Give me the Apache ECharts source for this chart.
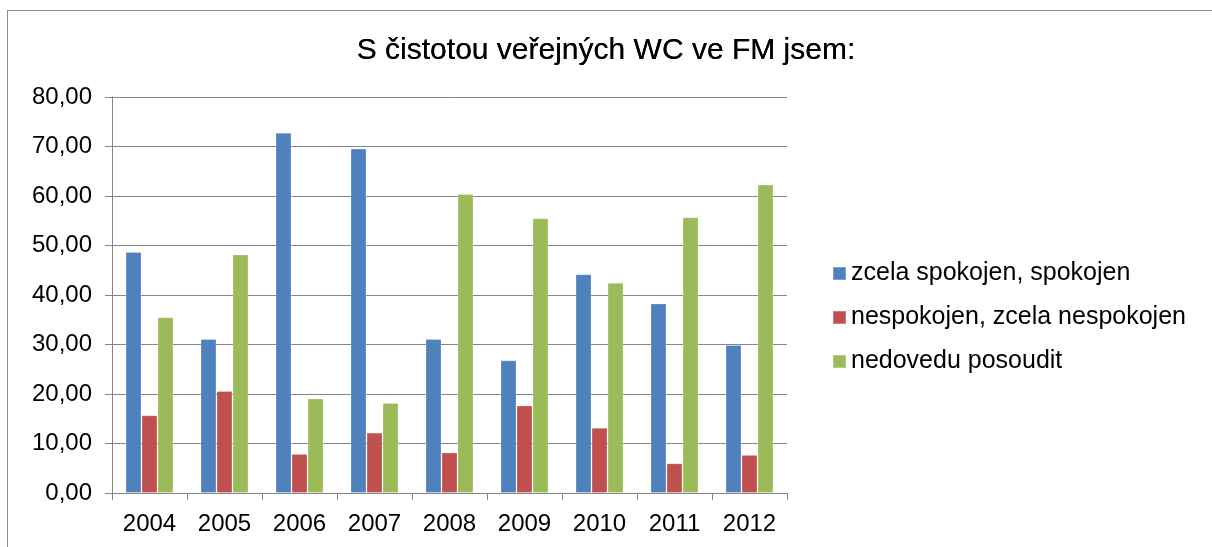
<!DOCTYPE html>
<html>
<head>
<meta charset="utf-8">
<script src="https://cdn.jsdelivr.net/npm/echarts@6/dist/echarts.min.js"></script>
<style>
  html, body { margin: 0; padding: 0; background: #fff; }
  #frame {
    position: absolute; left: 7px; top: 10px; width: 1220px; height: 560px;
    border: 1px solid #8c8c8c; box-sizing: border-box;
  }
  #chart { position: absolute; left: 0; top: 0; width: 1212px; height: 547px; }
</style>
</head>
<body>
<div id="frame"></div>
<div id="chart"></div>
<script>
// data
const years = ['2004', '2005', '2006', '2007', '2008', '2009', '2010', '2011', '2012']
const spokojen = [48.7, 31.1, 72.8, 69.6, 31.1, 26.8, 44.2, 38.3, 29.9]
const nespokojen = [15.7, 20.6, 7.9, 12.2, 8.2, 17.7, 13.2, 6.0, 7.7]
const neposoudit = [35.5, 48.2, 19.1, 18.2, 60.4, 55.5, 42.5, 55.7, 62.3]
const seriesNames = ['zcela spokojen, spokojen', 'nespokojen, zcela nespokojen', 'nedovedu posoudit']
const colors = ['#4F81BD', '#C0504D', '#9BBB59']

const font = 'Liberation Sans, Arial, sans-serif'

function bar(name, data, color) {
  return {
    name: name,
    type: 'bar',
    data: data,
    barWidth: 16,
    barGap: 0,
    itemStyle: { color: color, borderColor: 'rgba(255,255,255,0.25)', borderWidth: 1 }
  }
}

let myChart = echarts.init(document.getElementById('chart'))
myChart.setOption({
  animation: false,
  textStyle: { fontFamily: font },
  title: {
    text: 'S čistotou veřejných WC ve FM jsem:',
    left: 'center',
    top: 31,
    textStyle: { fontSize: 30, fontWeight: 'normal', color: '#000', fontFamily: font, textShadowColor: '#000', textShadowBlur: 0.6 }
  },
  legend: {
    orient: 'vertical',
    left: 827,
    top: 256,
    itemWidth: 13,
    itemHeight: 13,
    itemGap: 19,
    icon: 'rect',
    data: seriesNames,
    textStyle: { fontSize: 25, color: '#000', fontFamily: font }
  },
  grid: { left: 112, top: 97, width: 675, height: 396, containLabel: false },
  xAxis: {
    type: 'category',
    data: years,
    axisLine: { lineStyle: { color: '#868686', width: 1 } },
    axisTick: { show: true, length: 7, lineStyle: { color: '#868686' } },
    axisLabel: { fontSize: 24, color: '#000', margin: 19, fontFamily: font }
  },
  yAxis: {
    type: 'value',
    min: 0,
    max: 80,
    interval: 10,
    axisLine: { show: true, lineStyle: { color: '#868686', width: 1 } },
    axisTick: { show: true, length: 7, lineStyle: { color: '#868686' } },
    splitLine: { lineStyle: { color: '#868686', width: 1 } },
    axisLabel: {
      fontSize: 24, color: '#000', margin: 20, fontFamily: font,
      formatter: v => v.toFixed(2).replace('.', ',')
    }
  },
  series: [
    bar(seriesNames[0], spokojen, colors[0]),
    bar(seriesNames[1], nespokojen, colors[1]),
    bar(seriesNames[2], neposoudit, colors[2])
  ]
})
</script>
</body>
</html>
